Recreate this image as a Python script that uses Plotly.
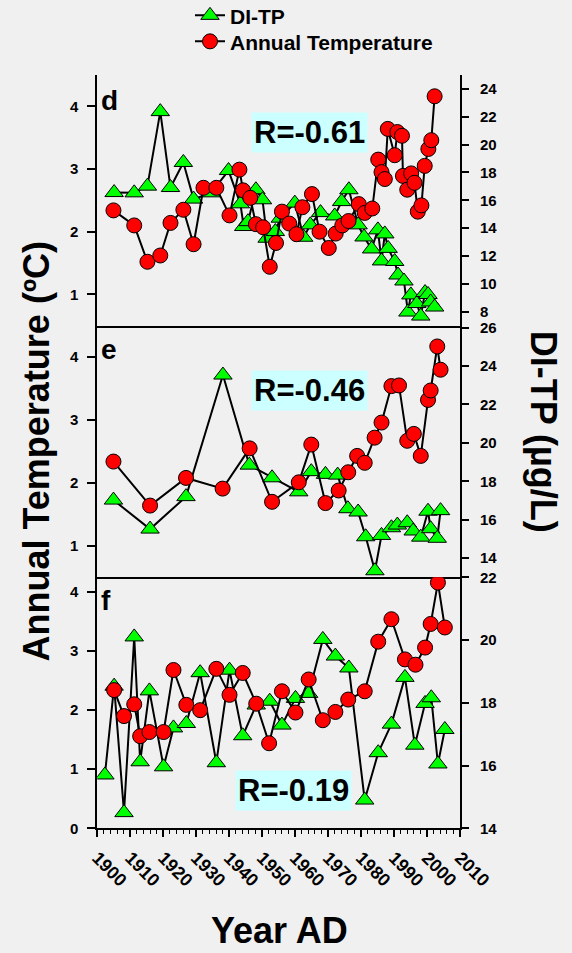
import plotly.graph_objects as go

# ---------------- data ----------------
d_temp_year = [1904.9, 1911.2, 1915.2, 1919.1, 1922.2, 1926.1, 1929.2, 1932.2, 1936.1, 1940.1, 1943.1, 1944.2,
               1946.4, 1948.1, 1950.3, 1952.3, 1954.2, 1956.0, 1958.2, 1960.4, 1962.2, 1965.1, 1967.4, 1970.2,
               1972.3, 1974.3, 1976.2, 1979.3, 1981.1, 1983.4, 1985.2, 1986.2, 1987.2, 1988.1, 1990.2, 1991.0,
               1992.4, 1992.7, 1994.0, 1995.2, 1996.2, 1997.2, 1998.3, 1999.3, 2000.4, 2001.3, 2002.3]
d_temp = [2.34, 2.10, 1.52, 1.62, 2.14, 2.35, 1.80, 2.70, 2.70, 2.26, 2.99, 2.66,
          2.54, 2.12, 2.07, 1.44, 1.82, 2.32, 2.13, 1.96, 2.39, 2.60, 2.00, 1.74,
          1.97, 2.10, 2.17, 2.44, 2.30, 2.37, 3.15, 2.95, 2.84, 3.64, 3.22, 3.59,
          3.53, 2.89, 2.67, 2.93, 2.78, 2.32, 2.42, 3.05, 3.32, 3.46, 4.16]
d_tp_year = [1905.1, 1911.2, 1915.2, 1919.1, 1922.2, 1926.1, 1929.2, 1934.5, 1939.8, 1943.4, 1944.4, 1945.7,
             1948.1, 1950.1, 1951.5, 1954.0, 1955.5, 1959.9, 1962.6, 1964.6, 1967.7, 1972.0, 1974.1, 1976.3,
             1979.1, 1980.9, 1983.2, 1985.1, 1986.2, 1987.2, 1988.2, 1990.2, 1991.2, 1993.0, 1994.2, 1995.1,
             1996.9, 1998.1, 1999.4, 2000.3, 2001.1, 2002.3]
d_tp = [16.56, 16.54, 17.02, 22.37, 16.92, 18.72, 16.09, 16.54, 18.14, 15.75, 14.12, 14.47,
        16.76, 16.04, 13.28, 13.76, 14.72, 15.80, 13.35, 14.24, 15.12, 14.88, 15.91, 16.76,
        14.24, 13.37, 12.51, 13.88, 11.65, 13.59, 12.55, 11.61, 10.64, 10.21, 7.98, 9.21,
        8.59, 7.69, 9.38, 9.24, 8.70, 8.34]

e_temp_year = [1904.9, 1916.0, 1926.9, 1938.0, 1946.2, 1953.0, 1961.1, 1964.9, 1969.2, 1973.2, 1976.1, 1978.8,
               1981.1, 1984.1, 1986.2, 1989.2, 1991.5, 1994.0, 1996.0, 1998.1, 2000.3, 2001.1, 2003.1, 2004.1]
e_temp = [2.34, 1.64, 2.08, 1.91, 2.55, 1.70, 2.01, 2.61, 1.68, 1.88, 2.17, 2.43,
          2.32, 2.72, 2.96, 3.54, 3.55, 2.67, 2.78, 2.43, 3.32, 3.47, 4.17, 3.80]
e_tp_year = [1904.9, 1916.0, 1926.9, 1938.1, 1946.1, 1953.0, 1961.1, 1964.9, 1969.2, 1972.9, 1976.0, 1979.1,
             1981.4, 1984.2, 1986.2, 1989.2, 1991.0, 1994.0, 1995.8, 1998.1, 2000.3, 2001.1, 2003.1, 2004.1]
e_tp = [17.02, 15.51, 17.20, 23.53, 18.84, 18.18, 17.45, 18.50, 18.36, 18.32, 16.57, 16.40,
        15.11, 13.34, 15.18, 15.58, 15.72, 15.84, 15.41, 15.09, 16.44, 15.53, 15.03, 16.47]

f_temp_year = [1905.1, 1908.1, 1911.2, 1913.0, 1915.8, 1920.1, 1923.1, 1927.0, 1931.2, 1936.1, 1940.1, 1944.1,
               1948.2, 1952.1, 1956.0, 1960.1, 1964.1, 1968.4, 1972.2, 1976.1, 1981.1, 1985.2, 1989.2, 1993.3,
               1996.5, 1999.4, 2001.1, 2003.3, 2005.4]
f_temp = [2.34, 1.90, 2.10, 1.56, 1.63, 1.63, 2.68, 2.09, 2.00, 2.70, 2.26, 2.63,
          2.11, 1.44, 2.32, 1.96, 2.52, 1.83, 1.97, 2.18, 2.32, 3.16, 3.54, 2.86,
          2.77, 3.06, 3.46, 4.16, 3.40]
f_tp_year = [1902.3, 1905.1, 1908.1, 1911.2, 1913.0, 1915.8, 1920.1, 1923.1, 1927.0, 1931.2, 1936.1, 1940.1,
             1944.1, 1948.2, 1952.3, 1956.0, 1960.1, 1964.1, 1968.4, 1972.2, 1976.3, 1981.1, 1985.2, 1989.2,
             1993.3, 1996.3, 1999.4, 2001.3, 2003.3, 2005.4]
f_tp = [15.70, 18.53, 14.50, 20.10, 16.12, 18.38, 15.96, 17.20, 17.34, 18.96, 16.09, 19.04,
        16.95, 17.93, 18.05, 17.29, 18.14, 18.30, 20.02, 19.49, 19.11, 14.90, 16.41, 17.32,
        18.81, 16.65, 17.98, 18.16, 16.05, 17.15]

panel_labels = ["d", "e", "f"]
r_labels = ["R=-0.61", "R=-0.46", "R=-0.19"]
series_names = ["DI-TP", "Annual Temperature"]
x_ticks = list(range(1900, 2011, 10))

# ---------------- layout geometry ----------------
W, H = 572, 953
FONT = "Liberation Sans, Arial, Helvetica, sans-serif"
BG = "#F0F0F0"
GREEN = "#00FF00"
RED = "#FF0000"

def px(x):
    return x / W

def py(y):
    return 1 - y / H

xdom = [px(97.3), px(460.0)]
panel_pix = [(75.0, 325.7), (325.7, 577.3), (577.3, 828.3)]
left_ranges = [[0.5, 4.5], [0.5, 4.5], [0, 4.25]]
right_ranges = [[7, 25], [13, 26.1], [14, 22]]

temps = [(d_temp_year, d_temp), (e_temp_year, e_temp), (f_temp_year, f_temp)]
tps = [(d_tp_year, d_tp), (e_tp_year, e_tp), (f_tp_year, f_tp)]

fig = go.Figure()
layout = {}
tickfont = dict(family=FONT, size=15, color="black", weight="bold")

for i in range(3):
    top, bot = panel_pix[i]
    ydom = [py(bot), py(top)]
    xb = i * 2 + 1           # bottom x axis index
    xt = i * 2 + 2           # top x axis index
    yr = i * 2 + 1           # right axis (base) for DI-TP
    yl = i * 2 + 2           # left axis (overlay) for temperature
    is_bottom = (i == 2)

    layout[f"xaxis{xb}"] = dict(
        domain=xdom, range=[1900, 2010], anchor=f"y{yr}",
        showline=True, linewidth=2, linecolor="black", showgrid=False, zeroline=False,
        ticks="outside" if is_bottom else "", ticklen=7, tickwidth=1.5, tickcolor="black",
        tickvals=x_ticks, showticklabels=is_bottom, tickangle=45,
        tickfont=dict(family=FONT, size=18, color="black", weight="bold"), ticklabelstandoff=3,
        minor=dict(dtick=2, ticks="outside" if is_bottom else "", ticklen=4, tickwidth=1.2, tickcolor="black"),
    )
    layout[f"xaxis{xt}"] = dict(
        domain=xdom, range=[1900, 2010], anchor=f"y{yr}", overlaying=f"x{xb}", side="top",
        showline=True, linewidth=2, linecolor="black", showgrid=False, zeroline=False,
        ticks="inside", ticklen=5, tickwidth=1.5, tickcolor="black", tickvals=x_ticks, showticklabels=False,
        minor=dict(dtick=2, ticks="inside", ticklen=3, tickwidth=1.2, tickcolor="black"),
    )
    layout[f"yaxis{yr}"] = dict(
        domain=ydom, range=right_ranges[i], anchor=f"x{xb}", side="right",
        showline=True, linewidth=2, linecolor="black", showgrid=False, zeroline=False,
        ticks="outside", ticklen=7, tickwidth=1.5, tickcolor="black", dtick=2,
        tickfont=tickfont, ticklabelstandoff=8,
    )
    layout[f"yaxis{yl}"] = dict(
        domain=ydom, range=left_ranges[i], anchor=f"x{xb}", side="left", overlaying=f"y{yr}",
        showline=True, linewidth=2, linecolor="black", showgrid=False, zeroline=False,
        ticks="outside", ticklen=8, tickwidth=1.5, tickcolor="black", dtick=1,
        tickfont=tickfont, ticklabelstandoff=6,
    )

    xs, ys = tps[i]
    fig.add_trace(go.Scatter(
        x=xs, y=ys, xaxis=f"x{xb}", yaxis=f"y{yr}", mode="lines+markers", name=series_names[0],
        showlegend=(i == 0), legend="legend",
        line=dict(color="black", width=2),
        marker=dict(symbol="triangle-up", size=16, color=GREEN, line=dict(color="black", width=1)),
    ))
    xs, ys = temps[i]
    fig.add_trace(go.Scatter(
        x=xs, y=ys, xaxis=f"x{xb}", yaxis=f"y{yl}", mode="lines+markers", name=series_names[1],
        showlegend=(i == 0), legend="legend2",
        line=dict(color="black", width=2),
        marker=dict(symbol="circle", size=15, color=RED, line=dict(color="black", width=1)),
    ))

annotations = []
# panel letters
letter_y = [100, 349, 600]
for i in range(3):
    annotations.append(dict(
        text=panel_labels[i], x=px(99), y=py(letter_y[i]), xref="paper", yref="paper",
        xanchor="left", yanchor="middle", showarrow=False,
        font=dict(family=FONT, size=28, color="black", weight="bold"),
    ))
# R boxes
r_pos = [(309.5, 132.5), (309.5, 390.5), (293.3, 790.3)]
for i in range(3):
    annotations.append(dict(
        text=r_labels[i], x=px(r_pos[i][0]), y=py(r_pos[i][1]), xref="paper", yref="paper",
        xanchor="center", yanchor="middle", showarrow=False, bgcolor="#CCFFFF", borderpad=2,
        font=dict(family=FONT, size=31, color="black", weight="bold"),
    ))
# axis titles
annotations.append(dict(
    text="Annual Temperature (ºC)", x=px(36), y=py(451.5), xref="paper", yref="paper",
    xanchor="center", yanchor="middle", textangle=-90, showarrow=False,
    font=dict(family=FONT, size=36, color="black", weight="bold"),
))
annotations.append(dict(
    text="DI-TP (µg/L)", x=px(543), y=py(431.7), xref="paper", yref="paper",
    xanchor="center", yanchor="middle", textangle=90, showarrow=False,
    font=dict(family=FONT, size=36, color="black", weight="bold"),
))
annotations.append(dict(
    text="Year AD", x=px(279), y=py(930), xref="paper", yref="paper",
    xanchor="center", yanchor="middle", showarrow=False,
    font=dict(family=FONT, size=36, color="black", weight="bold"),
))

legend_common = dict(xanchor="left", yanchor="middle", bgcolor="rgba(0,0,0,0)", borderwidth=0,
                     font=dict(family=FONT, size=21, color="black", weight="bold"), itemsizing="trace")

fig.update_layout(
    width=W, height=H,
    margin=dict(l=0, r=0, t=0, b=0, pad=0, autoexpand=False),
    paper_bgcolor=BG, plot_bgcolor=BG,
    showlegend=True,
    legend=dict(x=px(190), y=py(15.7), **legend_common),
    legend2=dict(x=px(190), y=py(41.7), **legend_common),
    annotations=annotations,
    **layout,
)

fig.write_html("out.html", config={"displayModeBar": False},
               post_script="document.body.style.margin='0';document.body.style.overflow='hidden';")
